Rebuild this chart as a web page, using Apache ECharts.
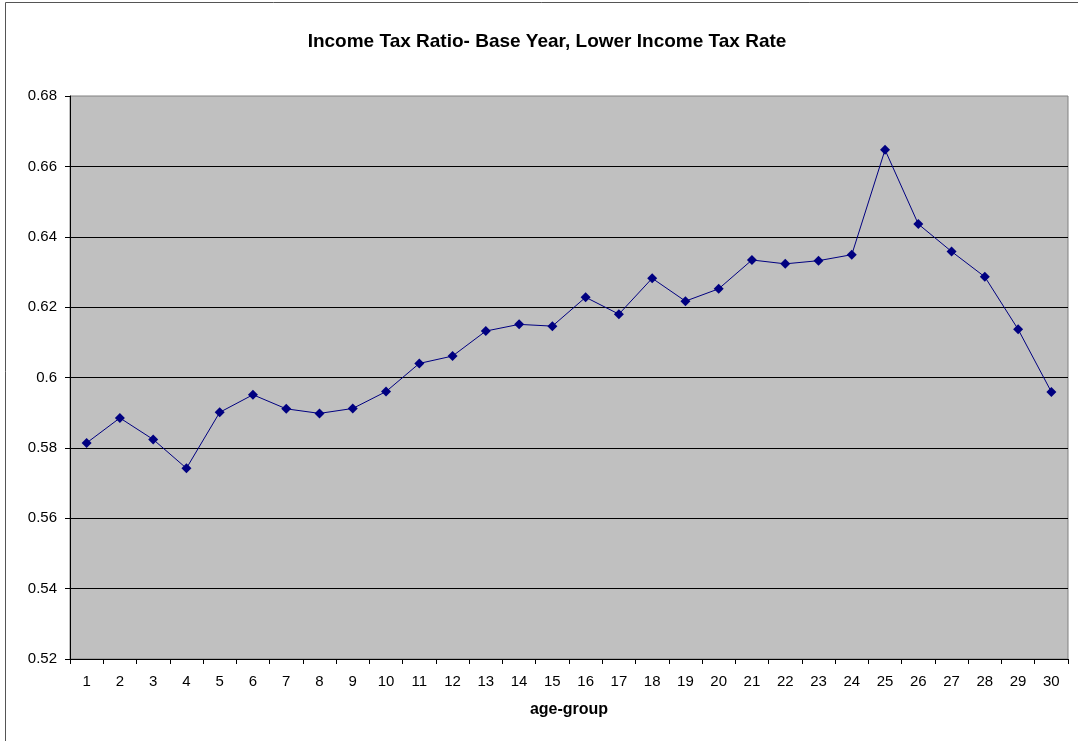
<!DOCTYPE html>
<html>
<head>
<meta charset="utf-8">
<script src="https://cdn.jsdelivr.net/npm/echarts@6/dist/echarts.min.js"></script>
<style>
  html, body { margin: 0; padding: 0; background: #fff; }
  #chart { width: 1078px; height: 741px; }
</style>
</head>
<body>
<div id="chart"></div>
<script>
// Age groups along the x axis
const ageGroups = ['1','2','3','4','5','6','7','8','9','10','11','12','13','14','15',
                   '16','17','18','19','20','21','22','23','24','25','26','27','28','29','30'];
// Income tax ratio per age group
const taxRatio = [0.5814, 0.5885, 0.5824, 0.5742, 0.5901, 0.5951, 0.5911, 0.5898, 0.5912, 0.5960,
                  0.6040, 0.6061, 0.6132, 0.6151, 0.6146, 0.6228, 0.6180, 0.6282, 0.6217, 0.6252,
                  0.6334, 0.6323, 0.6332, 0.6349, 0.6647, 0.6436, 0.6358, 0.6286, 0.6137, 0.5959];
// Value axis range
const yMin = 0.52, yMax = 0.68, yStep = 0.02;

const chart = echarts.init(document.getElementById('chart'), null, { renderer: 'canvas' });
const font = 'Liberation Sans, Arial, sans-serif';

chart.setOption({
  animation: false,
  backgroundColor: '#ffffff',
  graphic: [{
    type: 'polyline',
    shape: { points: [[5.5, 741], [5.5, 2.5], [1078, 2.5]] },
    style: { stroke: '#555555', lineWidth: 1, fill: null },
    silent: true
  }],
  title: {
    text: 'Income Tax Ratio- Base Year, Lower Income Tax Rate',
    left: 542, top: 27, textAlign: 'center',
    textStyle: { fontFamily: font, fontSize: 19, fontWeight: 'bold', color: '#000' }
  },
  grid: {
    left: 70, right: 10, top: 96, bottom: 82,
    show: true, backgroundColor: '#c0c0c0', borderColor: '#808080', borderWidth: 1
  },
  xAxis: {
    type: 'category',
    data: ageGroups,
    boundaryGap: true,
    name: 'age-group',
    nameLocation: 'middle',
    nameGap: 43,
    nameTextStyle: { fontFamily: font, fontSize: 16, fontWeight: 'bold', color: '#000' },
    axisLine: { lineStyle: { color: '#000', width: 1 } },
    axisTick: { show: true, length: 5, alignWithLabel: false, lineStyle: { color: '#000' } },
    axisLabel: { fontFamily: font, fontSize: 15, color: '#000', margin: 15, interval: 0 },
    splitLine: { show: false }
  },
  yAxis: {
    type: 'value',
    min: yMin, max: yMax, interval: yStep,
    axisLine: { show: true, lineStyle: { color: '#000', width: 1 } },
    axisTick: { show: true, length: 5, lineStyle: { color: '#000' } },
    axisLabel: {
      fontFamily: font, fontSize: 15, color: '#000', margin: 13,
      formatter: v => String(parseFloat(v.toFixed(2)))
    },
    splitLine: { show: true, showMaxLine: false, showMinLine: false, lineStyle: { color: '#000', width: 1 } }
  },
  series: [{
    type: 'line',
    data: taxRatio,
    symbol: 'diamond',
    symbolSize: [10, 10],
    lineStyle: { color: '#000080', width: 1 },
    itemStyle: { color: '#000080' }
  }]
});
</script>
</body>
</html>
